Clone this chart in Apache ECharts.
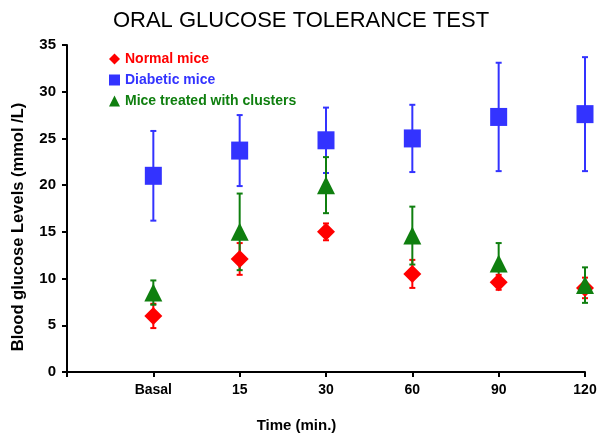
<!DOCTYPE html>
<html>
<head>
<meta charset="utf-8">
<script src="https://cdn.jsdelivr.net/npm/echarts@6/dist/echarts.min.js"></script>
<style>html,body{margin:0;padding:0;background:#fff;}#c{width:602px;height:441px;}</style>
</head>
<body>
<div id="c"></div>
<script>
var categories = ['Basal', '15', '30', '60', '90', '120'];
var normalMice = [6.0, 12.1, 15.0, 10.5, 9.6, 9.0];
var normalErr = [1.3, 1.7, 0.9, 1.5, 0.8, 1.1];
var diabeticMice = [21.0, 23.7, 24.8, 25.0, 27.3, 27.6];
var diabeticErr = [4.8, 3.8, 3.5, 3.6, 5.8, 6.1];
var treatedMice = [8.5, 15.0, 20.0, 14.6, 11.6, 9.3];
var treatedErr = [1.3, 4.1, 3.0, 3.1, 2.2, 1.9];
var yTicks = [0, 5, 10, 15, 20, 25, 30, 35];

var RED = '#ff0000', BLUE = '#3333ff', GREEN = '#0f7f0f';
var FONT = 'Liberation Sans, Arial, sans-serif';

function pts(vals) { return vals.map(function (v, i) { return [i + 1, v]; }); }
function errData(vals, errs) { return vals.map(function (v, i) { return [i + 1, v - errs[i], v + errs[i]]; }); }
function errSeries(name, vals, errs, color) {
  return {
    type: 'custom', name: name + ' err', silent: true,
    data: errData(vals, errs),
    renderItem: function (params, api) {
      var lo = api.coord([api.value(0), api.value(1)]);
      var hi = api.coord([api.value(0), api.value(2)]);
      var w = 3;
      var st = { stroke: color, lineWidth: 2 };
      return { type: 'group', children: [
        { type: 'line', shape: { x1: lo[0], y1: lo[1], x2: hi[0], y2: hi[1] }, style: st },
        { type: 'line', shape: { x1: lo[0] - w, y1: lo[1], x2: lo[0] + w, y2: lo[1] }, style: st },
        { type: 'line', shape: { x1: hi[0] - w, y1: hi[1], x2: hi[0] + w, y2: hi[1] }, style: st }
      ]};
    }
  };
}
function markSeries(name, vals, color, symbol, size) {
  return { type: 'scatter', name: name, data: pts(vals), symbol: symbol, symbolSize: size,
    itemStyle: { color: color, opacity: 1 }, emphasis: { disabled: true } };
}

var chart = echarts.init(document.getElementById('c'));
chart.setOption({
  animation: false,
  backgroundColor: '#fff',
  title: { text: 'ORAL GLUCOSE TOLERANCE TEST', left: 'center', top: 5,
    textStyle: { fontFamily: FONT, fontSize: 22, fontWeight: 'normal', color: '#000' } },
  legend: {
    orient: 'vertical', left: 104, top: 47, itemGap: 7, itemWidth: 11, itemHeight: 11,
    textStyle: { fontFamily: FONT, fontSize: 14, fontWeight: 'bold' },
    data: [
      { name: 'Normal mice', icon: 'diamond', textStyle: { color: RED } },
      { name: 'Diabetic mice', icon: 'rect', textStyle: { color: BLUE } },
      { name: 'Mice treated with clusters', icon: 'triangle', textStyle: { color: GREEN } }
    ]
  },
  grid: { left: 67, right: 17, top: 45, bottom: 69 },
  xAxis: {
    type: 'value', min: 0, max: 6, interval: 1,
    axisLine: { lineStyle: { color: '#000', width: 2 } },
    axisTick: { show: true, length: 5, lineStyle: { color: '#000', width: 2 } },
    axisLabel: { fontFamily: FONT, fontSize: 14, fontWeight: 'bold', color: '#000', margin: 11,
      formatter: function (v) { return v >= 1 ? categories[v - 1] : ''; } },
    splitLine: { show: false },
    name: 'Time (min.)', nameLocation: 'middle', nameGap: 46,
    nameTextStyle: { fontFamily: FONT, fontSize: 15, fontWeight: 'bold', color: '#000', padding: [0, 0, 0, -59] }
  },
  yAxis: {
    type: 'value', min: yTicks[0], max: yTicks[yTicks.length - 1], interval: 5,
    axisLine: { show: true, lineStyle: { color: '#000', width: 2 } },
    axisTick: { show: true, length: 5, lineStyle: { color: '#000', width: 2 } },
    axisLabel: { fontFamily: FONT, fontSize: 15, fontWeight: 'bold', color: '#000', margin: 11 },
    splitLine: { show: false }
  },
  graphic: [{
    type: 'text', x: 18, y: 227, rotation: Math.PI / 2,
    style: { text: 'Blood glucose Levels (mmol /L)', fontFamily: FONT, fontSize: 16.5, fontWeight: 'bold',
      fill: '#000', align: 'center', verticalAlign: 'middle' }
  }],
  series: [
    errSeries('Diabetic mice', diabeticMice, diabeticErr, BLUE),
    markSeries('Diabetic mice', diabeticMice, BLUE, 'rect', [17, 18]),
    errSeries('Normal mice', normalMice, normalErr, RED),
    markSeries('Normal mice', normalMice, RED, 'diamond', 18),
    errSeries('Mice treated with clusters', treatedMice, treatedErr, GREEN),
    markSeries('Mice treated with clusters', treatedMice, GREEN, 'triangle', 18)
  ]
});
</script>
</body>
</html>
